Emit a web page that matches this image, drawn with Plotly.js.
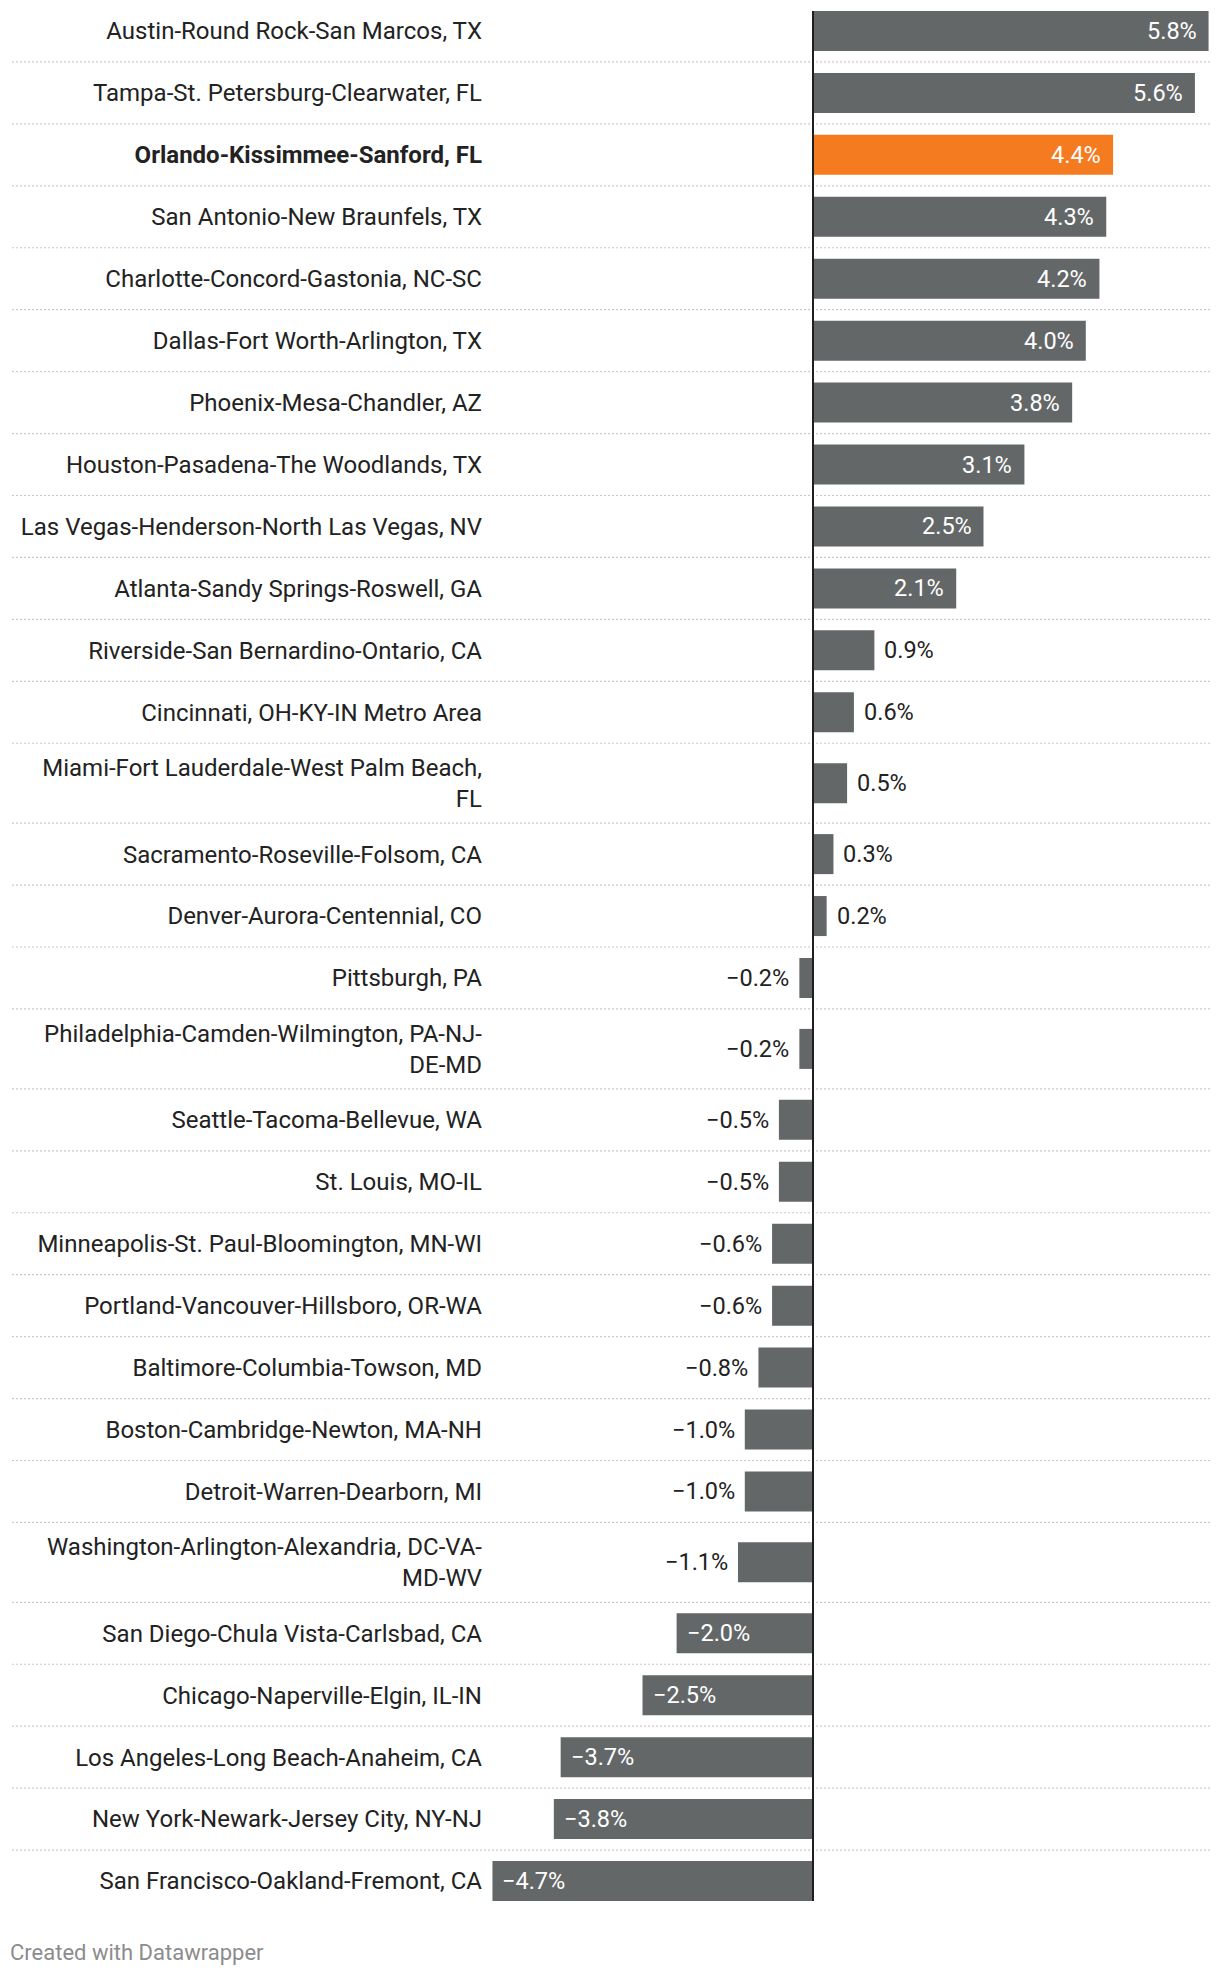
<!DOCTYPE html>
<html>
<head>
<meta charset="utf-8">
<script src="https://cdn.plot.ly/plotly-3.0.1.min.js"></script>
<style>
html,body{margin:0;padding:0;background:#ffffff;}
#chart{width:1220px;height:1978px;}
</style>
</head>
<body>
<div id="chart"></div>
<script>
// ---------- DATA ----------
const metros = [
  "Austin-Round Rock-San Marcos, TX",
  "Tampa-St. Petersburg-Clearwater, FL",
  "Orlando-Kissimmee-Sanford, FL",
  "San Antonio-New Braunfels, TX",
  "Charlotte-Concord-Gastonia, NC-SC",
  "Dallas-Fort Worth-Arlington, TX",
  "Phoenix-Mesa-Chandler, AZ",
  "Houston-Pasadena-The Woodlands, TX",
  "Las Vegas-Henderson-North Las Vegas, NV",
  "Atlanta-Sandy Springs-Roswell, GA",
  "Riverside-San Bernardino-Ontario, CA",
  "Cincinnati, OH-KY-IN Metro Area",
  "Miami-Fort Lauderdale-West Palm Beach,<br>FL",
  "Sacramento-Roseville-Folsom, CA",
  "Denver-Aurora-Centennial, CO",
  "Pittsburgh, PA",
  "Philadelphia-Camden-Wilmington, PA-NJ-<br>DE-MD",
  "Seattle-Tacoma-Bellevue, WA",
  "St. Louis, MO-IL",
  "Minneapolis-St. Paul-Bloomington, MN-WI",
  "Portland-Vancouver-Hillsboro, OR-WA",
  "Baltimore-Columbia-Towson, MD",
  "Boston-Cambridge-Newton, MA-NH",
  "Detroit-Warren-Dearborn, MI",
  "Washington-Arlington-Alexandria, DC-VA-<br>MD-WV",
  "San Diego-Chula Vista-Carlsbad, CA",
  "Chicago-Naperville-Elgin, IL-IN",
  "Los Angeles-Long Beach-Anaheim, CA",
  "New York-Newark-Jersey City, NY-NJ",
  "San Francisco-Oakland-Fremont, CA"
];
const changes = [
  5.8, 5.6, 4.4, 4.3, 4.2, 4.0, 3.8, 3.1, 2.5, 2.1,
  0.9, 0.6, 0.5, 0.3, 0.2, -0.2, -0.2, -0.5, -0.5, -0.6,
  -0.6, -0.8, -1.0, -1.0, -1.1, -2.0, -2.5, -3.7, -3.8, -4.7
];
const highlightMetro = "Orlando-Kissimmee-Sanford, FL";
const footerText = "Created with Datawrapper";

// ---------- STYLE / LAYOUT CONSTANTS ----------
const W = 1220, H = 1978;
const COLOR_BAR = "#646767";
const COLOR_HL = "#f47b20";
const COLOR_TEXT = "#222222";
const COLOR_GRID = "#c9c9c9";
const FONT = "Roboto, 'Noto Sans', sans-serif";
const FS_LABEL = 24;
const FS_VALUE = 23.5;
const EXTRA_LINE = 0.29;     // extra row height (in row units) per wrapped line
const BAR_W = 0.646;         // bar thickness in row units
const ML = 483, MR = 8, MT = 0, MB = 66;
const PX_PER_UNIT_X = 68.2;  // px per percentage point
const ZERO_PX = 813;         // x pixel of the zero line
const GRID_LEFT_PX = 12;

// ---------- DERIVED ----------
const heights = metros.map(m => 1 + EXTRA_LINE * (m.split("<br>").length - 1));
const pos = [];
const bounds = [];
let acc = 0;
heights.forEach((h, i) => {
  pos.push(acc + h / 2);
  acc += h;
  if (i < heights.length - 1) bounds.push(acc);
});
const total = acc;

const plotW = W - ML - MR;
const xmin = -(ZERO_PX - ML) / PX_PER_UNIT_X;
const xmax = (W - MR - ZERO_PX) / PX_PER_UNIT_X;

const tickText = metros.map(m => m === highlightMetro ? "<b>" + m + "</b>" : m);
const colors = metros.map(m => m === highlightMetro ? COLOR_HL : COLOR_BAR);

const fmt = v => (v < 0 ? "\u2212" : "") + Math.abs(v).toFixed(1) + "%";

const annotations = [];
changes.forEach((v, i) => {
  const inside = Math.abs(v) >= 1.5;
  let xanchor, xshift;
  if (v >= 0) {
    xanchor = inside ? "right" : "left";
    xshift = inside ? -10 : 8;
  } else {
    xanchor = inside ? "left" : "right";
    xshift = inside ? 8 : -8;
  }
  annotations.push({
    x: v, y: pos[i], xref: "x", yref: "y",
    text: fmt(v), showarrow: false,
    xanchor: xanchor, yanchor: "middle", xshift: xshift,
    font: {family: FONT, size: FS_VALUE, color: inside ? "#ffffff" : COLOR_TEXT}
  });
});
annotations.push({
  x: (8 - ML) / plotW, y: 0, xref: "paper", yref: "paper",
  xanchor: "left", yanchor: "middle", yshift: -40,
  text: footerText, showarrow: false,
  font: {family: FONT, size: 22, color: "#8c8c8c"}
});

const shapes = bounds.map(b => ({
  type: "line", xref: "paper", yref: "y",
  x0: (GRID_LEFT_PX - ML) / plotW, x1: 1, y0: b, y1: b,
  line: {color: COLOR_GRID, width: 1.2, dash: "2px,2px"},
  layer: "below"
}));
shapes.push({
  type: "line", xref: "x", yref: "y",
  x0: 0, x1: 0, y0: pos[0] - BAR_W / 2, y1: pos[pos.length - 1] + BAR_W / 2,
  line: {color: "#1f1f1f", width: 2},
  layer: "above"
});

const trace = {
  type: "bar",
  orientation: "h",
  x: changes,
  y: pos,
  width: BAR_W,
  marker: {color: colors, line: {width: 0}},
  hoverinfo: "skip",
  textposition: "none"
};

const layout = {
  width: W, height: H,
  margin: {l: ML, r: MR, t: MT, b: MB, pad: 0},
  paper_bgcolor: "#ffffff",
  plot_bgcolor: "#ffffff",
  font: {family: FONT, color: COLOR_TEXT},
  showlegend: false,
  xaxis: {
    range: [xmin, xmax], showgrid: false, zeroline: false,
    showticklabels: false, showline: false, ticks: "", fixedrange: true
  },
  yaxis: {
    range: [total, 0], tickmode: "array", tickvals: pos, ticktext: tickText,
    showgrid: false, zeroline: false, showline: false, ticks: "",
    tickfont: {family: FONT, size: FS_LABEL, color: COLOR_TEXT},
    automargin: false, fixedrange: true
  },
  shapes: shapes,
  annotations: annotations
};

Plotly.newPlot("chart", [trace], layout, {staticPlot: true, displayModeBar: false});
</script>
</body>
</html>
